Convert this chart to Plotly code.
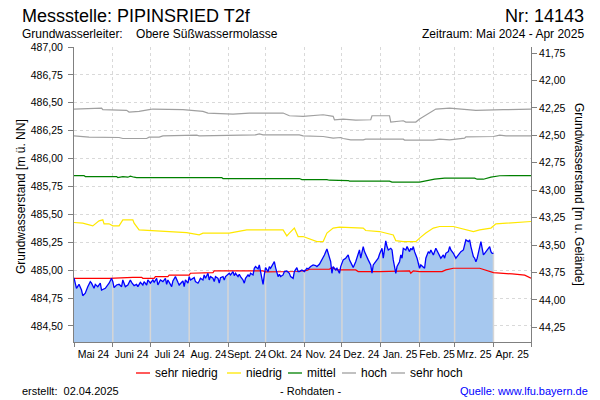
import numpy as np
import pandas as pd
import plotly.graph_objects as go

# ---------------- data ----------------
START = "2024-05-01"
END = "2025-05-01"

month_labels = ["Mai 24", "Juni 24", "Juli 24", "Aug. 24", "Sept. 24", "Okt. 24",
                "Nov. 24", "Dez. 24", "Jan. 25", "Feb. 25", "Mrz. 25", "Apr. 25"]

left_ticks = [484.50, 484.75, 485.00, 485.25, 485.50, 485.75, 486.00, 486.25, 486.50, 486.75, 487.00]
right_ticks = [41.75, 42.00, 42.25, 42.50, 42.75, 43.00, 43.25, 43.50, 43.75, 44.00, 44.25]

# measured groundwater level (days after 2024-05-01, m ü. NN)
meas_days = [0, 2, 4, 6, 7, 9, 11, 13, 14, 16,
             17, 19, 21, 22, 25, 28, 30, 31, 32, 34,
             36, 38, 39, 41, 43, 45, 46, 48, 50, 51,
             53, 55, 56, 58, 59, 61, 63, 64, 66, 67,
             69, 71, 73, 74, 75, 78, 79, 81, 83, 84,
             86, 87, 88, 89, 91, 92, 93, 96, 97, 99,
             100, 101, 103, 104, 105, 107, 108, 109, 111, 112,
             113, 115, 116, 117, 119, 120, 121, 123, 124, 125,
             127, 128, 129, 131, 132, 133, 135, 136, 137, 139,
             140, 141, 143, 144, 145, 147, 148, 149, 150, 151,
             152, 153, 155, 156, 157, 159, 160, 161, 163, 164,
             165, 167, 168, 170, 172, 173, 175, 176, 178, 179,
             180, 182, 184, 186, 187, 189, 191, 193, 194, 196,
             198, 200, 202, 203, 205, 206, 207, 209, 210, 212,
             213, 215, 217, 219, 220, 222, 223, 225, 227, 228,
             229, 231, 232, 234, 235, 237, 238, 239, 241, 243,
             244, 245, 246, 247, 249, 250, 251, 253, 254, 255,
             256, 257, 258, 260, 261, 262, 263, 265, 266, 268,
             269, 270, 271, 272, 274, 275, 276, 277, 279, 280,
             281, 282, 283, 284, 285, 287, 288, 289, 291, 292,
             293, 295, 296, 297, 299, 300, 301, 303, 304, 305,
             307, 308, 309, 311, 312, 313, 315, 316, 317, 318,
             319, 320, 321, 322, 323, 324, 325, 326, 327, 328,
             329, 331, 332, 333, 334, 335]
meas_vals = [484.930, 484.837, 484.873, 484.822, 484.771, 484.793, 484.852, 484.897, 484.883, 484.837,
             484.873, 484.852, 484.883, 484.822, 484.837, 484.883, 484.927, 484.897, 484.843, 484.867,
             484.873, 484.852, 484.912, 484.852, 484.867, 484.912, 484.891, 484.861, 484.873, 484.852,
             484.891, 484.867, 484.897, 484.867, 484.912, 484.883, 484.912, 484.891, 484.927, 484.867,
             484.912, 484.897, 484.927, 484.873, 484.912, 484.852, 484.903, 484.942, 484.891, 484.867,
             484.891, 484.903, 484.852, 484.912, 484.883, 484.942, 484.912, 484.933, 484.897, 484.883,
             484.903, 484.927, 484.912, 484.957, 484.927, 484.972, 484.912, 484.942, 484.927, 484.897,
             484.942, 484.927, 484.883, 484.933, 484.942, 484.912, 484.942, 484.957, 484.972, 484.957,
             484.987, 484.951, 484.972, 484.942, 484.963, 484.942, 484.912, 484.883, 484.927, 484.957,
             484.942, 484.972, 484.957, 485.017, 485.032, 485.011, 485.047, 484.987, 484.942, 484.873,
             484.957, 485.023, 484.987, 485.032, 485.017, 485.053, 485.076, 485.023, 484.942, 484.963,
             484.942, 484.957, 484.987, 484.993, 484.972, 484.942, 484.927, 484.987, 485.023, 484.987,
             484.987, 485.002, 484.987, 485.017, 485.011, 485.032, 485.047, 485.041, 485.032, 485.053,
             485.092, 485.136, 485.190, 485.151, 485.076, 484.972, 485.032, 485.002, 485.017, 484.972,
             485.032, 485.092, 485.107, 485.136, 485.092, 485.047, 485.023, 485.076, 485.136, 485.181,
             485.107, 485.211, 485.166, 485.107, 485.092, 485.047, 484.972, 485.047, 485.076, 485.107,
             485.142, 485.166, 485.196, 485.107, 485.262, 485.211, 485.181, 485.196, 485.181, 485.092,
             485.017, 484.972, 485.032, 485.076, 485.136, 485.107, 485.196, 485.181, 485.211, 485.166,
             485.196, 485.181, 485.211, 485.166, 485.107, 485.062, 485.017, 485.047, 485.032, 485.017,
             485.107, 485.136, 485.166, 485.151, 485.181, 485.136, 485.166, 485.196, 485.151, 485.121,
             485.107, 485.136, 485.107, 485.151, 485.166, 485.211, 485.181, 485.151, 485.121, 485.107,
             485.136, 485.151, 485.166, 485.181, 485.226, 485.271, 485.256, 485.271, 485.211, 485.166,
             485.121, 485.107, 485.076, 485.107, 485.166, 485.211, 485.256, 485.196, 485.136, 485.151,
             485.166, 485.196, 485.211, 485.166, 485.151, 485.151]

# percentile reference lines
red_days = [0, 28, 47, 54, 55, 64, 65, 75, 76, 92,
            93, 103, 104, 111, 112, 151, 153, 178, 186, 188,
            204, 206, 208, 210, 225, 227, 244, 257, 268, 269,
            271, 276, 294, 297, 303, 324, 328, 335, 350, 360, 365]
red_vals = [484.927, 484.927, 484.936, 484.936, 484.927, 484.927, 484.942, 484.942, 484.955, 484.955,
            484.972, 484.972, 484.978, 484.978, 484.993, 484.993, 484.985, 484.988, 484.998, 485.008,
            485.008, 485.023, 485.010, 485.002, 485.002, 484.987, 484.987, 484.993, 484.993, 484.972,
            484.993, 484.987, 484.987, 485.002, 485.017, 485.017, 485.002, 484.978, 484.966, 484.955, 484.927]

yel_days = [0, 7, 15, 18, 20, 23, 24, 28, 31, 36,
            38, 39, 47, 48, 52, 60, 74, 90, 100, 103,
            124, 132, 138, 167, 170, 172, 176, 179, 183, 194,
            199, 202, 207, 212, 231, 233, 244, 255, 257, 263,
            273, 276, 281, 287, 292, 303, 311, 319, 324, 333,
            337, 351, 365]
yel_vals = [485.427, 485.421, 485.397, 485.421, 485.442, 485.451, 485.415, 485.415, 485.397, 485.397,
            485.442, 485.451, 485.451, 485.421, 485.361, 485.355, 485.346, 485.337, 485.316, 485.332,
            485.332, 485.346, 485.361, 485.361, 485.307, 485.332, 485.377, 485.301, 485.301, 485.256,
            485.256, 485.332, 485.377, 485.386, 485.377, 485.355, 485.346, 485.316, 485.265, 485.256,
            485.256, 485.287, 485.332, 485.377, 485.391, 485.391, 485.368, 485.346, 485.361, 485.377,
            485.415, 485.427, 485.436]

grn_days = [0, 8, 9, 34, 35, 39, 43, 45, 48, 50,
            118, 119, 180, 182, 202, 204, 219, 220, 252, 254,
            276, 284, 288, 296, 320, 322, 327, 333, 340, 365]
grn_vals = [485.848, 485.848, 485.839, 485.839, 485.830, 485.839, 485.833, 485.842, 485.833, 485.830,
            485.830, 485.821, 485.821, 485.812, 485.812, 485.806, 485.803, 485.798, 485.798, 485.789,
            485.789, 485.810, 485.815, 485.825, 485.825, 485.815, 485.815, 485.834, 485.846, 485.848]

hoch_days = [0, 12, 36, 39, 58, 60, 68, 71, 98, 100,
             145, 148, 151, 180, 183, 199, 207, 213, 215, 221,
             231, 233, 263, 264, 287, 292, 300, 305, 312, 313,
             335, 340, 345, 365]
hoch_vals = [486.204, 486.192, 486.189, 486.180, 486.180, 486.192, 486.192, 486.204, 486.210, 486.204,
             486.213, 486.222, 486.213, 486.213, 486.204, 486.198, 486.183, 486.189, 486.180, 486.168,
             486.168, 486.174, 486.174, 486.166, 486.166, 486.174, 486.168, 486.174, 486.183, 486.195,
             486.198, 486.210, 486.204, 486.204]

shoch_days = [0, 22, 23, 42, 44, 52, 60, 63, 87, 98,
              103, 107, 127, 140, 167, 172, 183, 199, 207, 208,
              215, 225, 237, 238, 252, 253, 257, 263, 265, 273,
              276, 284, 289, 300, 316, 321, 343, 365]
shoch_vals = [486.444, 486.453, 486.438, 486.432, 486.417, 486.423, 486.438, 486.444, 486.438, 486.432,
              486.423, 486.408, 486.399, 486.408, 486.408, 486.384, 486.378, 486.393, 486.378, 486.348,
              486.354, 486.345, 486.348, 486.384, 486.384, 486.327, 486.333, 486.339, 486.327, 486.327,
              486.354, 486.408, 486.444, 486.453, 486.438, 486.432, 486.438, 486.444]

legend_names = ["sehr niedrig", "niedrig", "mittel", "hoch", "sehr hoch"]

# ---------------- styling ----------------
FONT = "Liberation Sans, Arial, sans-serif"
AXIS = "#808080"
GRID = "#d9d9d9"
FILL = "#a6c8ef"
COLORS = ["#ff0000", "#ffe800", "#008000", "#a0a0a0", "#a0a0a0"]
Y_MIN, Y_MAX = 484.356, 487.0
Y2_BOTTOM, Y2_TOP = 44.384, 41.695

W, H = 600, 400
ML, MR, MT, MB = 74, 69, 47, 58
PW, PH = W - ML - MR, H - MT - MB


def px(xp):
    return (xp - ML) / PW


def py(yp):
    return (H - MB - yp) / PH


start = pd.Timestamp(START)


def to_dates(days):
    return [start + pd.Timedelta(days=d) for d in days]


month_starts = pd.date_range(START, END, freq="MS")
mid_months = month_starts[:-1] + (month_starts[1:] - month_starts[:-1]) / 2

meas_dates = to_dates(meas_days)

fig = go.Figure()

# filled area under measured level
fig.add_trace(go.Scatter(x=meas_dates, y=meas_vals, mode="lines", fill="tozeroy",
                         fillcolor=FILL, line=dict(width=0), hoverinfo="skip", showlegend=False))

# light month separators inside the filled area
vx, vy = [], []
for m in month_starts[1:]:
    d = (m - start).days
    if d <= meas_days[-1]:
        top = float(np.interp(d, meas_days, meas_vals))
        vx += [m, m, None]
        vy += [Y_MIN, top, None]
fig.add_trace(go.Scatter(x=vx, y=vy, mode="lines", line=dict(color="#d6d6d6", width=1.5),
                         hoverinfo="skip", showlegend=False))

# reference lines
for days, vals, col, name in zip([red_days, yel_days, grn_days, hoch_days, shoch_days],
                                 [red_vals, yel_vals, grn_vals, hoch_vals, shoch_vals],
                                 COLORS, legend_names):
    fig.add_trace(go.Scatter(x=to_dates(days), y=vals, mode="lines", name=name,
                             line=dict(color=col, width=1.2), showlegend=False))

# measured line
fig.add_trace(go.Scatter(x=meas_dates, y=meas_vals, mode="lines",
                         line=dict(color="#0000ff", width=1.3), showlegend=False))

# dummy trace for right axis
fig.add_trace(go.Scatter(x=[start], y=[right_ticks[0]], yaxis="y2", mode="markers",
                         marker=dict(opacity=0), hoverinfo="skip", showlegend=False))

tickfont = dict(family=FONT, size=10.5, color="black")

fig.update_layout(
    width=W, height=H,
    margin=dict(l=ML, r=MR, t=MT, b=MB),
    paper_bgcolor="white", plot_bgcolor="white",
    separators=",.",
    font=dict(family=FONT, color="black"),
    showlegend=False,
    xaxis=dict(
        type="date", range=[START, END], automargin=False,
        tickmode="array", tickvals=list(mid_months), ticktext=month_labels, tickangle=0,
        ticks="", showgrid=False, zeroline=False,
        showline=True, linecolor=AXIS, linewidth=1,
        tickfont=tickfont, ticklabelstandoff=2,
        minor=dict(tickmode="array", tickvals=list(month_starts), ticks="outside",
                   ticklen=4, tickcolor=AXIS, showgrid=True, gridcolor=GRID,
                   griddash="3px,3px", gridwidth=1),
    ),
    yaxis=dict(
        range=[Y_MIN, Y_MAX], automargin=False,
        tickmode="array", tickvals=left_ticks, tickformat=".2f",
        ticks="outside", ticklen=5, tickcolor=AXIS,
        showline=True, linecolor=AXIS, linewidth=1,
        showgrid=True, gridcolor=GRID, griddash="3px,3px", zeroline=False,
        tickfont=tickfont, ticklabelstandoff=3,
    ),
    yaxis2=dict(
        overlaying="y", side="right", automargin=False,
        range=[Y2_BOTTOM, Y2_TOP], tickmode="array", tickvals=right_ticks, tickformat=".2f",
        ticks="outside", ticklen=5, tickcolor=AXIS,
        showline=True, linecolor=AXIS, linewidth=1,
        showgrid=False, zeroline=False, tickfont=tickfont,
    ),
)

ann = []


def text(xp, yp, s, size, anchor="left", color="black", angle=0):
    ann.append(dict(x=px(xp), y=py(yp), xref="paper", yref="paper", text=s, showarrow=False,
                    xanchor=anchor, yanchor="middle", textangle=angle,
                    font=dict(family=FONT, size=size, color=color)))


text(20, 16, "Messstelle: PIPINSRIED T2f", 18)
text(586, 16, "Nr: 14143", 18, anchor="right")
text(20, 34, "Grundwasserleiter:\u00a0\u00a0\u00a0\u00a0Obere Süßwassermolasse", 12)
text(586, 34, "Zeitraum: Mai 2024 - Apr 2025", 12, anchor="right")
text(21, 197, "Grundwasserstand [m ü. NN]", 12, anchor="center", angle=-90)
text(579, 194, "Grundwasserstand [m u. Gelände]", 12, anchor="center", angle=90)

# legend
leg_line_x = [136, 227, 288, 342, 391]
leg_text_x = [153, 244, 305, 359, 408]
shapes = []
for lx, tx, col, name in zip(leg_line_x, leg_text_x, COLORS, legend_names):
    shapes.append(dict(type="line", xref="paper", yref="paper", x0=px(lx), x1=px(lx + 14),
                       y0=py(373), y1=py(373), line=dict(color=col, width=1.3)))
    text(tx, 373, name, 12)

text(20, 391, "erstellt:\u00a0\u00a002.04.2025", 11)
text(310, 391, "- Rohdaten -", 11, anchor="center")
text(590, 391, "Quelle: www.lfu.bayern.de", 11, anchor="right", color="#0000ff")

fig.update_layout(annotations=ann, shapes=shapes)

fig.write_html("out.html", config={"displayModeBar": False},
               post_script="document.body.style.margin='0';")
